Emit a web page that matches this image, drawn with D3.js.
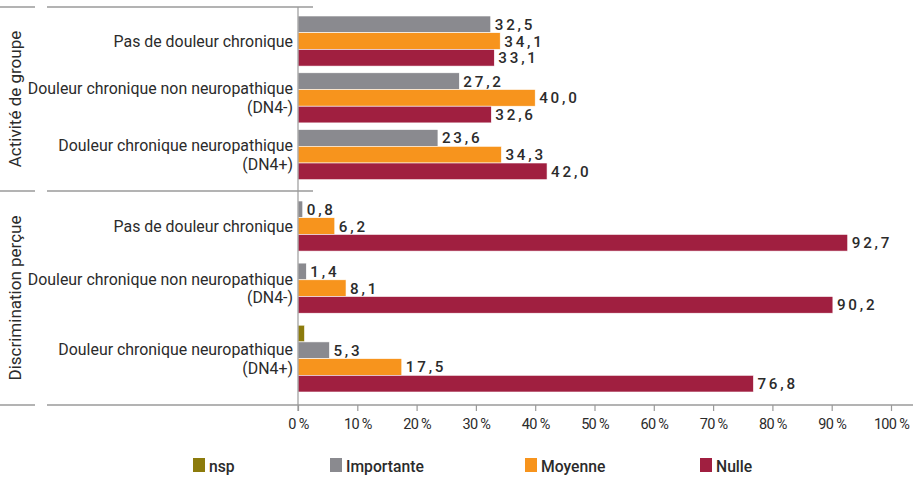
<!DOCTYPE html>
<html><head><meta charset="utf-8">
<script src="https://cdn.jsdelivr.net/npm/d3@7"></script>
<style>
body{margin:0;background:#fff;}
svg{display:block;font-family:Roboto, "Noto Sans", sans-serif;}
</style></head>
<body><svg id="c" width="919" height="478"></svg>
<script>
// ---- data ----
const seriesNames = ["nsp", "Importante", "Moyenne", "Nulle"];
const seriesColors = ["#8c7b0c", "#8a8a8f", "#f7941d", "#a01f40"];
const sections = ["Activité de groupe", "Discrimination perçue"];
const categories = [
  ["Pas de douleur chronique"],
  ["Douleur chronique non neuropathique", "(DN4-)"],
  ["Douleur chronique neuropathique", "(DN4+)"]
];
// values per section, per category: [nsp, Importante, Moyenne, Nulle]; null = no bar
const activiteValues = [
  [null, 32.5, 34.1, 33.1],
  [null, 27.2, 40.0, 32.6],
  [null, 23.6, 34.3, 42.0]
];
const discriminationValues = [
  [null, 0.8, 6.2, 92.7],
  [null, 1.4, 8.1, 90.2],
  [1.1, 5.3, 17.5, 76.8]
];
const xTicks = [0, 10, 20, 30, 40, 50, 60, 70, 80, 90, 100];

// ---- layout ----
const svg = d3.select("#c");
const x = d3.scaleLinear().domain([0, 100]).range([298, 891]);
const barH = 16.7;
const lineColor = "#9a9a9a";
const sectionLayout = [
  {top: 7, bottom: 191, pad: 9, gap: 6.7, values: activiteValues},
  {top: 191, bottom: 405, pad: 10, gap: 12, values: discriminationValues}
];
const fmt = v => d3.format(".1f")(v).replace(".", ",");

// separator lines
[7, 191, 405].forEach((y, i) => {
  svg.append("line").attr("x1", 0).attr("x2", 35).attr("y1", y).attr("y2", y)
    .attr("stroke", lineColor).attr("stroke-width", 1.5);
  svg.append("line").attr("x1", 47).attr("x2", i === 2 ? 913 : 313).attr("y1", y).attr("y2", y)
    .attr("stroke", lineColor).attr("stroke-width", 1.5);
});

sectionLayout.forEach((sec, si) => {
  let cursor = sec.top + sec.pad;
  sec.values.forEach((vals, ci) => {
    const present = seriesNames.filter((s, k) => vals[k] !== null);
    const yb = d3.scaleBand().domain(present).range([cursor, cursor + present.length * barH]);
    const g = svg.append("g");
    present.forEach(s => {
      const k = seriesNames.indexOf(s);
      const v = vals[k];
      g.append("rect").attr("x", x(0)).attr("y", yb(s)).attr("width", x(v) - x(0))
        .attr("height", yb.bandwidth()).attr("fill", seriesColors[k])
        .attr("stroke", "#fff").attr("stroke-width", 0.6);
      if (s !== "nsp") {
        g.append("text").attr("x", x(v) + 4).attr("y", yb(s) + yb.bandwidth() / 2)
          .attr("dy", "0.36em").attr("font-size", 15.2).attr("font-weight", 500)
          .attr("letter-spacing", 2.8).attr("fill", "#2b2b2b").text(fmt(v));
      }
    });
    // category label
    const cy = cursor + present.length * barH / 2;
    const lines = categories[ci];
    const t = svg.append("text").attr("text-anchor", "end").attr("font-size", 15.9)
      .attr("fill", "#2b2b2b");
    lines.forEach((ln, li) => {
      t.append("tspan").attr("x", 293)
        .attr("y", cy + (li - (lines.length - 1) / 2) * 18.5).attr("dy", "0.36em").text(ln);
    });
    cursor += present.length * barH + sec.gap;
  });
  // section title
  const my = (sec.top + sec.bottom) / 2;
  svg.append("text").attr("transform", `translate(21,${my}) rotate(-90)`)
    .attr("text-anchor", "middle").attr("font-size", 17).attr("fill", "#2b2b2b")
    .text(sections[si]);
});

// vertical axis line
svg.append("line").attr("x1", x(0)).attr("x2", x(0)).attr("y1", 7).attr("y2", 411)
  .attr("stroke", lineColor).attr("stroke-width", 1.2);

// x axis
const ax = svg.append("g").attr("transform", "translate(0,405)")
  .call(d3.axisBottom(x).tickValues(xTicks).tickSize(6).tickFormat(d => d + " %"));
ax.select(".domain").remove();
ax.selectAll(".tick line").attr("stroke", lineColor).attr("stroke-width", 1.2);
ax.selectAll(".tick text").attr("font-size", 14.5).attr("fill", "#2b2b2b")
  .attr("font-family", "Roboto, sans-serif").attr("letter-spacing", -0.7).attr("dy", "1.05em");

// legend
const legendX = [193, 330, 525, 700];
const lg = svg.append("g");
seriesNames.forEach((s, k) => {
  lg.append("rect").attr("x", legendX[k]).attr("y", 458).attr("width", 12).attr("height", 14)
    .attr("fill", seriesColors[k]);
  lg.append("text").attr("x", legendX[k] + 16).attr("y", 466).attr("dy", "0.36em")
    .attr("font-size", 15.7).attr("font-weight", 500).attr("fill", "#2b2b2b").text(s);
});
</script></body></html>
